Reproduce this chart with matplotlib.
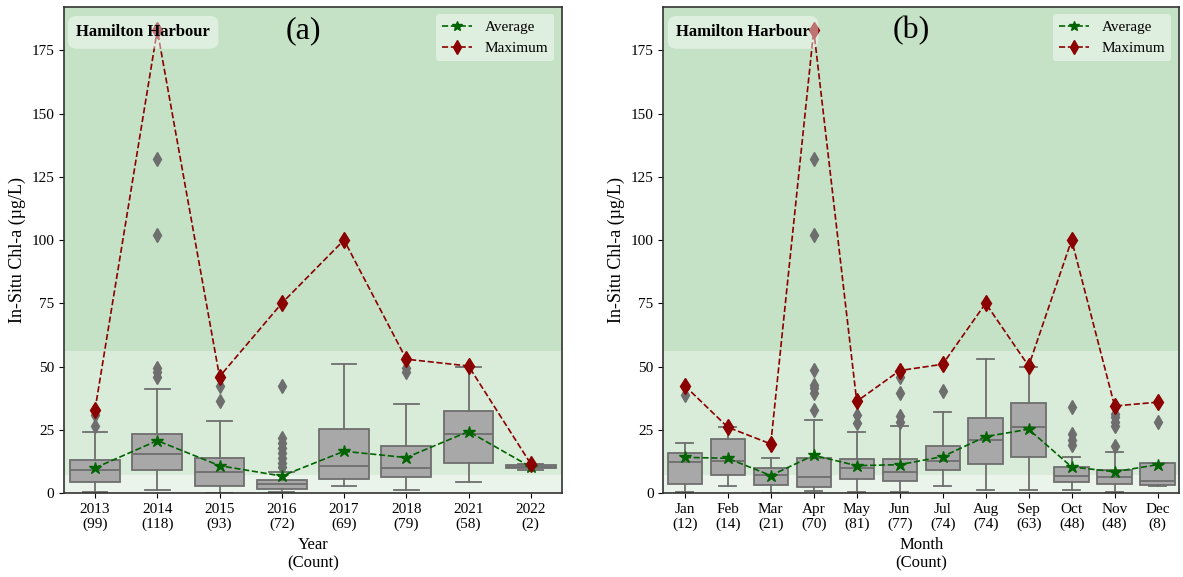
import matplotlib.pyplot as plt
from matplotlib.lines import Line2D

plt.rcParams['font.family'] = ['Liberation Serif', 'DejaVu Serif']

# ---- yearly statistics (µg/L) ----
years = ['2013', '2014', '2015', '2016', '2017', '2018', '2021', '2022']
year_counts = [99, 118, 93, 72, 69, 79, 58, 2]
year_q1 = [4.5, 9.0, 2.6, 1.5, 5.7, 6.3, 11.7, 9.8]
year_med = [9.0, 15.4, 8.4, 3.4, 10.7, 10.0, 23.5, 10.4]
year_q3 = [13.1, 23.4, 13.7, 5.3, 25.2, 18.7, 32.6, 10.9]
year_wlo = [0.3, 1.2, 0.1, 0.4, 2.6, 1.2, 4.5, 9.2]
year_whi = [24.3, 41.3, 28.5, 8.4, 50.8, 35.2, 49.9, 11.5]
year_fliers = [
    [26.3, 30.9, 32.9],
    [46.0, 48.0, 49.3, 102.0, 132.0, 183.0],
    [36.2, 42.1, 46.0],
    [10.4, 11.8, 13.7, 15.7, 17.7, 19.7, 21.6, 42.1, 75.0],
    [100.0],
    [48.0, 49.3, 52.9],
    [],
    [],
]
year_avg = [9.9, 20.7, 10.8, 6.7, 16.5, 14.0, 24.3, 10.3]
year_max = [32.9, 183.0, 46.0, 75.0, 100.0, 52.9, 50.2, 11.5]

# ---- monthly statistics (µg/L) ----
months = ['Jan', 'Feb', 'Mar', 'Apr', 'May', 'Jun',
          'Jul', 'Aug', 'Sep', 'Oct', 'Nov', 'Dec']
month_counts = [12, 14, 21, 70, 81, 77, 74, 74, 63, 48, 48, 8]
month_q1 = [3.7, 7.1, 3.0, 2.4, 5.4, 4.6, 9.1, 11.6, 14.3, 4.5, 3.4, 3.0]
month_med = [12.1, 12.7, 7.3, 6.3, 9.8, 8.2, 12.7, 21.0, 26.0, 6.7, 6.2, 4.9]
month_q3 = [15.7, 21.2, 9.8, 13.7, 13.6, 13.3, 18.6, 29.6, 35.4, 10.2, 9.2, 11.7]
month_wlo = [0.3, 2.6, 0.1, 0.7, 0.4, 0.4, 2.8, 1.2, 1.1, 1.2, 0.4, 2.8]
month_whi = [19.7, 25.9, 14.0, 29.0, 24.3, 26.5, 31.9, 52.8, 49.9, 14.4, 16.2, 11.7]
month_fliers = [
    [38.8, 42.4],
    [],
    [19.4],
    [32.9, 39.5, 41.4, 42.8, 48.7, 102.0, 132.0, 183.0],
    [27.6, 30.9, 36.2],
    [28.0, 30.5, 39.5, 46.0, 48.4],
    [40.3, 50.9],
    [75.0],
    [],
    [19.0, 21.0, 23.4, 34.0, 100.0],
    [18.7, 26.3, 28.2, 30.0, 31.3, 34.4],
    [28.2, 35.9],
]
month_avg = [14.1, 13.7, 6.9, 14.9, 10.8, 11.2, 14.4, 22.3, 25.2, 10.3, 8.4, 11.2]
month_max = [42.4, 26.0, 19.4, 183.0, 36.2, 48.4, 50.9, 75.0, 50.2, 100.0, 34.4, 35.9]

# trophic bands on chlorophyll-a
band_edges = [0, 7.3, 56, 200]
band_colors = ['#ebf4eb', '#d9ebd9', '#c5e2c6']

BOX_FACE = '#a8a8a8'
BOX_EDGE = '#6e6e6e'


def draw_panel(ax, cats, counts, q1, med, q3, wlo, whi, fliers, avg, mx, xlabel, tag):
    for lo, hi, c in zip(band_edges[:-1], band_edges[1:], band_colors):
        ax.axhspan(lo, hi, color=c, lw=0, zorder=0)

    stats = []
    for i in range(len(cats)):
        stats.append(dict(med=med[i], q1=q1[i], q3=q3[i], whislo=wlo[i],
                          whishi=whi[i], fliers=fliers[i], label=cats[i]))
    pos = list(range(len(cats)))
    ax.bxp(stats, positions=pos, widths=0.8, patch_artist=True,
           boxprops=dict(facecolor=BOX_FACE, edgecolor=BOX_EDGE, lw=1.3),
           medianprops=dict(color=BOX_EDGE, lw=1.3),
           whiskerprops=dict(color=BOX_EDGE, lw=1.3),
           capprops=dict(color=BOX_EDGE, lw=1.3),
           flierprops=dict(marker='d', markerfacecolor=BOX_EDGE,
                           markeredgecolor=BOX_EDGE, markersize=7),
           capwidths=0.4, zorder=2)

    ax.plot(pos, avg, '--', color='darkgreen', marker='*', markersize=9,
            lw=1.2, zorder=4)
    ax.plot(pos, mx, '--', color='darkred', marker='d', markersize=8,
            lw=1.2, zorder=4)

    ax.set_xlim(-0.5, len(cats) - 0.5)
    ax.set_ylim(0, 192.3)
    ax.set_yticks(range(0, 176, 25))
    ax.set_xticks(pos)
    ax.set_xticklabels([f'{c}\n({n})' for c, n in zip(cats, counts)], fontsize=11)
    ax.tick_params(axis='y', labelsize=11)
    ax.set_xlabel(xlabel, fontsize=12)
    ax.set_ylabel('In-Situ Chl-a (µg/L)', fontsize=13)
    for s in ax.spines.values():
        s.set_color('#333333')
        s.set_linewidth(1.2)

    ax.text(0.025, 0.947, 'Hamilton Harbour', transform=ax.transAxes,
            fontsize=12, fontweight='bold', va='center', ha='left', zorder=6,
            bbox=dict(boxstyle='round,pad=0.5', facecolor='white',
                      edgecolor='none', alpha=0.45))
    ax.text(0.48, 0.95, tag, transform=ax.transAxes, fontsize=23,
            ha='center', va='center', zorder=6)

    handles = [
        Line2D([], [], ls='--', color='darkgreen', marker='*', markersize=7, lw=1.2),
        Line2D([], [], ls='--', color='darkred', marker='d', markersize=7, lw=1.2),
    ]
    leg = ax.legend(handles, ['Average', 'Maximum'], loc='upper right',
                    fontsize=11, framealpha=0.45, facecolor='white',
                    edgecolor='none', handlelength=2.0)
    leg.set_zorder(6)


fig = plt.figure(figsize=(11.83, 5.77), dpi=100)
ax1 = fig.add_axes([0.054, 0.1456, 0.421, 0.843])
ax2 = fig.add_axes([0.5607, 0.1456, 0.436, 0.843])

draw_panel(ax1, years, year_counts, year_q1, year_med, year_q3, year_wlo,
           year_whi, year_fliers, year_avg, year_max, 'Year\n(Count)', '(a)')
draw_panel(ax2, months, month_counts, month_q1, month_med, month_q3, month_wlo,
           month_whi, month_fliers, month_avg, month_max, 'Month\n(Count)', '(b)')

fig.savefig('out.png', dpi=100)
